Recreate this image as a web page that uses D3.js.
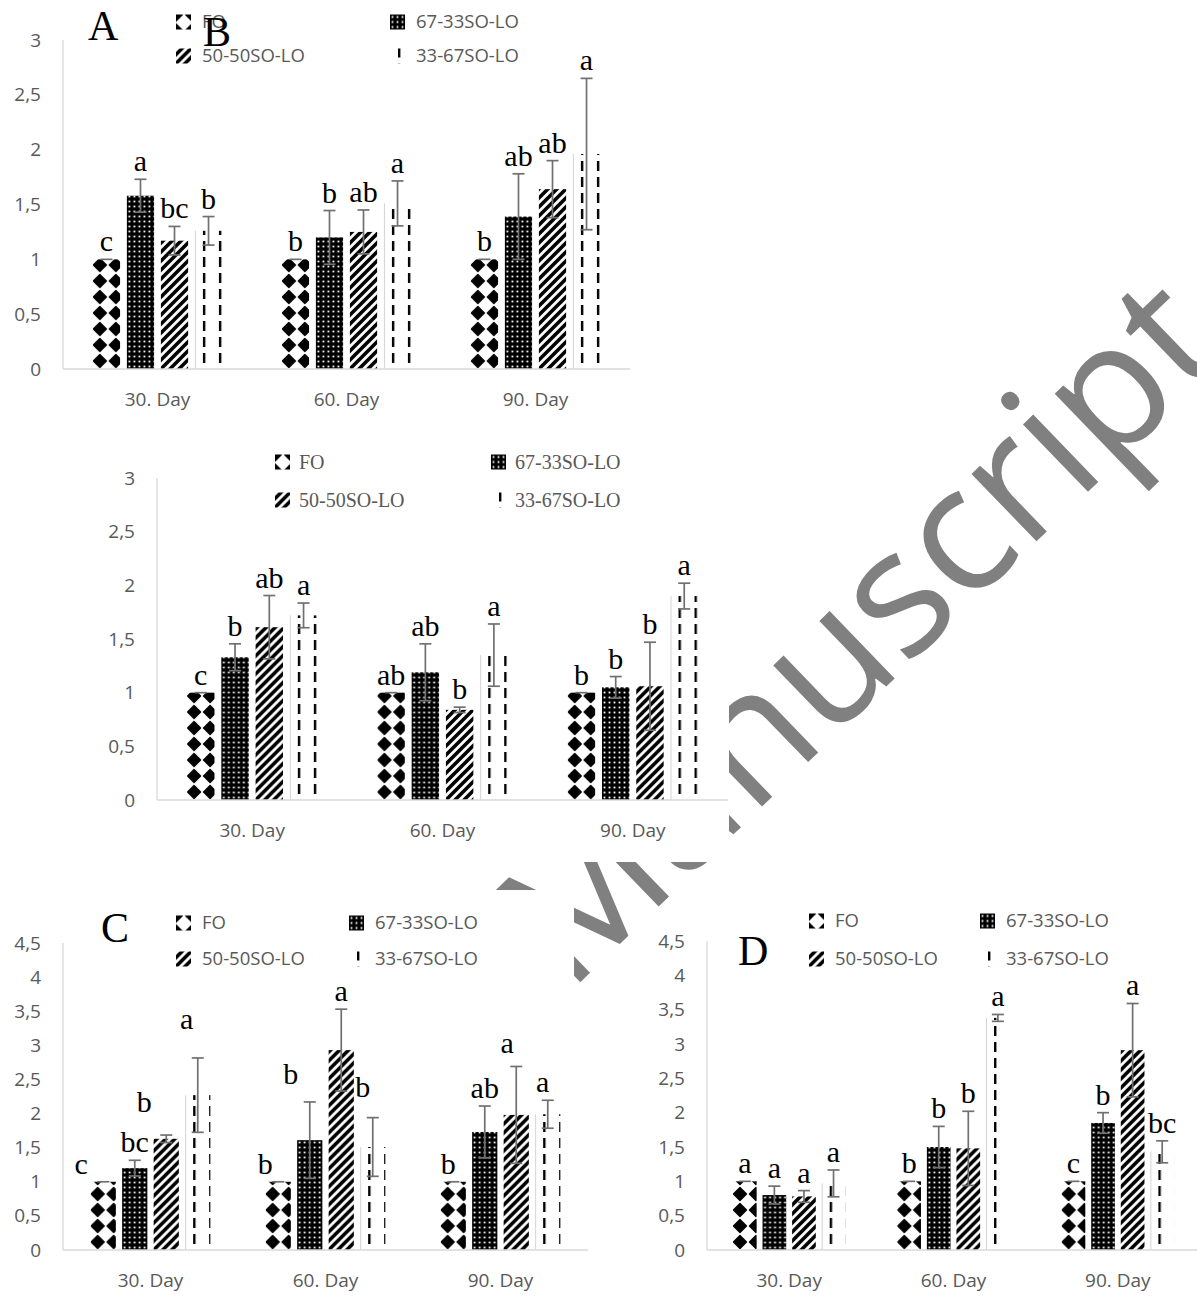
<!DOCTYPE html>
<html>
<head>
<meta charset="utf-8">
<script src="https://cdn.jsdelivr.net/npm/d3@7"></script>
<style>
  body { margin: 0; background: #fff; }
  svg { display: block; }
</style>
</head>
<body>
<svg id="chart" width="1197" height="1298"></svg>
<script>
// ===== data =====
const days   = ['30. Day', '60. Day', '90. Day'];
const groups = ['FO', '67-33SO-LO', '50-50SO-LO', '33-67SO-LO'];

const ticks3  = [0, 0.5, 1, 1.5, 2, 2.5, 3];
const ticks45 = [0, 0.5, 1, 1.5, 2, 2.5, 3, 3.5, 4, 4.5];

// rows = days, cols = groups
const aMean = [[1.00, 1.58, 1.17, 1.26], [1.00, 1.20, 1.25, 1.51], [1.00, 1.39, 1.64, 1.96]];
const aErr  = [[0, 0.15, 0.13, 0.13], [0, 0.245, 0.20, 0.205], [0, 0.39, 0.26, 0.69]];
const aLetters = [['c', 'a', 'bc', 'b'], ['b', 'b', 'ab', 'a'], ['b', 'ab', 'ab', 'a']];

const bMean = [[1.00, 1.33, 1.61, 1.72], [1.00, 1.19, 0.84, 1.35], [1.00, 1.05, 1.06, 1.90]];
const bErr  = [[0, 0.125, 0.295, 0.115], [0, 0.265, 0.025, 0.29], [0, 0.10, 0.41, 0.12]];
const bLetters = [['c', 'b', 'ab', 'a'], ['ab', 'ab', 'b', 'a'], ['b', 'b', 'b', 'a']];

const cMean = [[1.00, 1.20, 1.63, 2.27], [1.00, 1.61, 2.93, 1.51], [1.00, 1.73, 1.98, 1.99]];
const cErr  = [[0, 0.115, 0.055, 0.545], [0, 0.56, 0.60, 0.43], [0, 0.38, 0.71, 0.205]];
const cLetters = [['c', 'bc', 'b', 'a'], ['b', 'b', 'a', 'b'], ['b', 'ab', 'a', 'a']];

const dMean = [[1.00, 0.80, 0.78, 0.97], [1.00, 1.50, 1.48, 3.38], [1.00, 1.85, 2.91, 1.43]];
const dErr  = [[0, 0.13, 0.085, 0.195], [0, 0.30, 0.54, 0.05], [0, 0.15, 0.68, 0.16]];
const dLetters = [['a', 'a', 'a', 'a'], ['b', 'b', 'b', 'a'], ['c', 'b', 'a', 'bc']];

// letter placement tweaks for panel C (px), the letters there sit off-centre
const cNudge = [[[-22, 0], [0, 0], [-22, -15], [-11, -21]],
                [[-13, 0], [-19, -10], [0, 0], [-10, -13]],
                [[-5, 0], [0, 0], [-9, -5], [-5, 0]]];

// ===== setup =====
const svg  = d3.select('#chart');
const defs = svg.append('defs');
const SANS  = "'Open Sans', 'DejaVu Sans', sans-serif";
const SERIF = "'Liberation Serif', 'Times New Roman', serif";
const fmt = d => String(d).replace('.', ',');

let pid = 0;
// one pattern per mark so the texture lines up with each bar
function patternFill(kind, x, y) {
  const id = 'pat' + (pid++);
  const p = defs.append('pattern').attr('id', id).attr('patternUnits', 'userSpaceOnUse');
  if (kind === 0) {          // FO: black diamonds on white
    p.attr('width', 16).attr('height', 16).attr('x', x - 1).attr('y', y);
    p.append('rect').attr('width', 16).attr('height', 16).attr('fill', '#fff');
    p.append('path').attr('d', 'M8,1.5L14.5,8L8,14.5L1.5,8Z')
      .attr('fill', '#000').attr('stroke', '#000').attr('stroke-width', 1.4).attr('stroke-linejoin', 'round');
  } else if (kind === 1) {   // 67-33: white dots on black
    p.attr('width', 5).attr('height', 5).attr('x', x).attr('y', y);
    p.append('rect').attr('width', 5).attr('height', 5).attr('fill', '#000');
    p.append('rect').attr('x', 1.6).attr('y', 1.6).attr('width', 1.8).attr('height', 1.8).attr('fill', '#fff');
  } else if (kind === 2) {   // 50-50: wide upward diagonal
    p.attr('width', 9).attr('height', 9).attr('x', x).attr('y', y);
    p.append('rect').attr('width', 9).attr('height', 9).attr('fill', '#fff');
    p.append('path').attr('d', 'M-2,2L2,-2M0,9L9,0M7,11L11,7')
      .attr('stroke', '#000').attr('stroke-width', 3.6);
  } else {                   // 33-67: dashed vertical
    p.attr('width', 16).attr('height', 16).attr('x', x + 1).attr('y', y);
    p.append('rect').attr('width', 16).attr('height', 16).attr('fill', '#fff');
    p.append('rect').attr('x', 7).attr('y', 0).attr('width', 2.4).attr('height', 10).attr('fill', '#000');
  }
  return `url(#${id})`;
}

function drawPanel(cfg) {
  const g = svg.append('g');
  if (cfg.box) {
    g.append('rect').attr('x', cfg.box[0]).attr('y', cfg.box[1])
      .attr('width', cfg.box[2]).attr('height', cfg.box[3]).attr('fill', '#fff');
  }

  const y = d3.scaleLinear().domain([0, cfg.ticks[cfg.ticks.length - 1]]).range([cfg.bottom, cfg.top]);
  const x0 = d3.scaleBand().domain(days).range([cfg.left, cfg.right]).paddingInner(0.28).paddingOuter(0.14);
  const x1 = d3.scaleBand().domain(groups).range([0, x0.bandwidth()]).paddingInner(0.2).paddingOuter(0.1);

  // axes lines
  g.append('line').attr('x1', cfg.left).attr('x2', cfg.left).attr('y1', y(0)).attr('y2', cfg.top)
    .attr('stroke', '#d9d9d9').attr('stroke-width', 1.3);

  const ya = g.append('g').attr('transform', `translate(${cfg.left},0)`)
    .call(d3.axisLeft(y).tickValues(cfg.ticks).tickSize(0).tickPadding(22).tickFormat(fmt));
  ya.select('.domain').remove();
  ya.selectAll('text').attr('fill', '#595959').style('font-family', SANS).style('font-size', '19px');

  const xa = g.append('g').attr('transform', `translate(0,${y(0)})`)
    .call(d3.axisBottom(x0).tickSize(0));
  xa.select('.domain').remove();
  xa.selectAll('text').attr('fill', '#595959').style('font-family', SANS).style('font-size', '19px')
    .attr('dy', null).attr('y', 37);

  // bars
  days.forEach((day, i) => {
    groups.forEach((grp, j) => {
      const m = cfg.means[i][j];
      const bx = x0(day) + x1(grp), bw = x1.bandwidth();
      g.append('rect')
        .attr('x', bx).attr('y', y(m)).attr('width', bw).attr('height', y(0) - y(m))
        .attr('fill', patternFill(j, bx, y(0)));
      if (j === 3) {
        g.append('line').attr('x1', bx + 0.5).attr('x2', bx + 0.5).attr('y1', y(0)).attr('y2', y(m))
          .attr('stroke', '#d4d4d4').attr('stroke-width', 1);
      }
    });
  });

  g.append('line').attr('x1', cfg.left).attr('x2', cfg.right).attr('y1', y(0)).attr('y2', y(0))
    .attr('stroke', '#d9d9d9').attr('stroke-width', 1.5);

  // error bars and letters
  days.forEach((day, i) => {
    groups.forEach((grp, j) => {
      const m = cfg.means[i][j], e = cfg.errs[i][j];
      const cx = x0(day) + x1(grp) + x1.bandwidth() / 2;
      const eb = g.append('g').attr('stroke', '#707070').attr('stroke-width', 1.7);
      if (e > 0) {
        eb.append('line').attr('x1', cx).attr('x2', cx).attr('y1', y(m - e)).attr('y2', y(m + e));
        eb.append('line').attr('x1', cx - 6).attr('x2', cx + 6).attr('y1', y(m - e)).attr('y2', y(m - e));
      }
      eb.append('line').attr('x1', cx - 6).attr('x2', cx + 6).attr('y1', y(m + e)).attr('y2', y(m + e));

      const nd = cfg.nudge ? cfg.nudge[i][j] : [0, 0];
      g.append('text')
        .attr('x', cx + nd[0]).attr('y', y(m + e) - 8 + nd[1])
        .attr('text-anchor', 'middle')
        .style('font-family', SERIF).style('font-size', '30px').attr('fill', '#000')
        .text(cfg.letters[i][j]);
    });
  });

  // legend
  const L = cfg.legend;
  groups.forEach((grp, j) => {
    const lx = j % 2 === 0 ? L.x1 : L.x2;
    const ly = j < 2 ? L.y1 : L.y2;
    // FO swatch shows the diamond corners, like Excel's small legend key
    const px = j === 0 ? lx - 7 : lx;
    const py = j === 0 ? ly - 15.5 : ly + 7.5;
    g.append('rect').attr('x', lx).attr('y', ly - 7.5).attr('width', 15).attr('height', 15)
      .attr('fill', patternFill(j, px, py));
    g.append('text').attr('x', lx + L.gap).attr('y', ly).attr('dy', '0.35em')
      .style('font-family', L.serif ? SERIF : SANS).style('font-size', L.serif ? '20px' : '18.5px')
      .attr('fill', '#595959')
      .text(grp);
  });

  return g;
}

function panelTitle(t, x, yb) {
  svg.append('text').attr('x', x).attr('y', yb)
    .style('font-family', SERIF).style('font-size', '42px').attr('fill', '#000').text(t);
}

// ===== panels =====
drawPanel({
  means: aMean, errs: aErr, letters: aLetters, ticks: ticks3,
  left: 63, right: 630, top: 40, bottom: 369,
  legend: { x1: 176, x2: 390, y1: 22, y2: 56, gap: 26 }
});
panelTitle('A', 88, 40);

// watermark sits under the white chart areas of B and C
svg.append('text')
  .attr('transform', 'translate(568,994) rotate(-44)')
  .style('font-family', SANS).style('font-size', '175px').attr('fill', '#808080')
  .text('Manuscript');

drawPanel({
  box: [60, 440, 669, 422],
  means: bMean, errs: bErr, letters: bLetters, ticks: ticks3,
  left: 157, right: 728, top: 478, bottom: 800,
  legend: { x1: 275, x2: 491, y1: 462, y2: 500, gap: 24, serif: true }
});

drawPanel({
  box: [0, 890, 574, 408],
  means: cMean, errs: cErr, letters: cLetters, ticks: ticks45, nudge: cNudge,
  left: 63, right: 588, top: 943, bottom: 1250,
  legend: { x1: 176, x2: 349, y1: 923, y2: 959, gap: 26 }
});
panelTitle('C', 101, 942);

drawPanel({
  means: dMean, errs: dErr, letters: dLetters, ticks: ticks45,
  left: 707, right: 1200, top: 941, bottom: 1250,
  legend: { x1: 809, x2: 980, y1: 921, y2: 959, gap: 26 }
});
panelTitle('D', 738, 965);

panelTitle('B', 203, 46);
</script>
</body>
</html>
